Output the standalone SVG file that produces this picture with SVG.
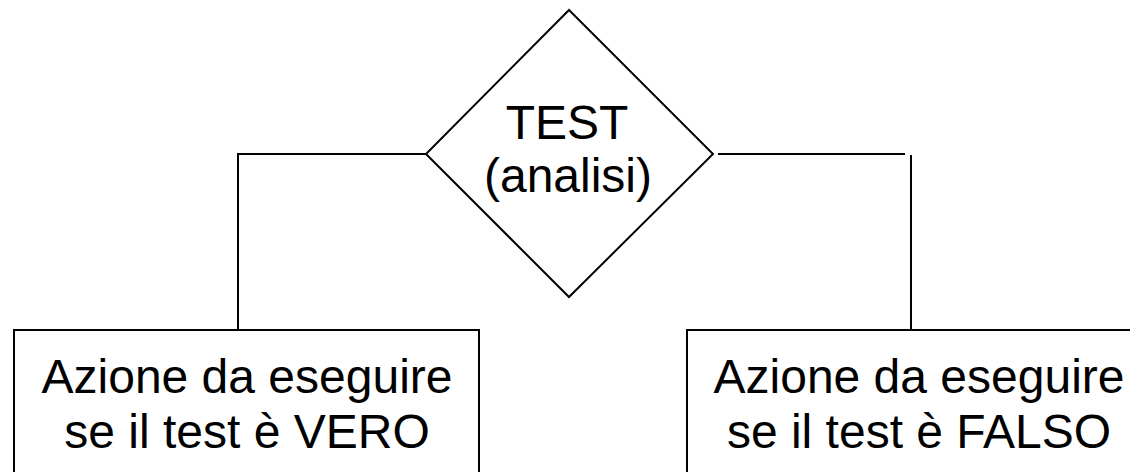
<svg xmlns="http://www.w3.org/2000/svg" width="1130" height="472" viewBox="0 0 1130 472">
<style>
.shape{fill:#fff;stroke:#000;stroke-width:2}
.conn{fill:none;stroke:#000;stroke-width:2}
.lbl{font-family:"Liberation Sans",Arial,sans-serif;font-size:48px;fill:#000;text-anchor:middle}
</style>
<rect width="1130" height="472" fill="#fff"/>
<g id="connectors">
<polyline class="conn" points="426,154 238,154 238,330"/>
<line class="conn" x1="718" y1="154" x2="905" y2="154"/>
<line class="conn" x1="911" y1="155" x2="911" y2="330"/>
</g>
<g id="test">
<polygon class="shape" points="569,10 713,154 569,297 426,154"/>
<text class="lbl" x="567" y="139">TEST</text>
<text class="lbl" x="568" y="192">(analisi)</text>
</g>
<g id="vero">
<rect class="shape" x="14" y="330" width="465" height="160"/>
<text class="lbl" x="247" y="393">Azione da eseguire</text>
<text class="lbl" x="247" y="448">se il test è VERO</text>
</g>
<g id="falso">
<rect class="shape" x="687" y="330" width="465" height="160"/>
<text class="lbl" x="919" y="393">Azione da eseguire</text>
<text class="lbl" x="919" y="448">se il test è FALSO</text>
</g>
</svg>
